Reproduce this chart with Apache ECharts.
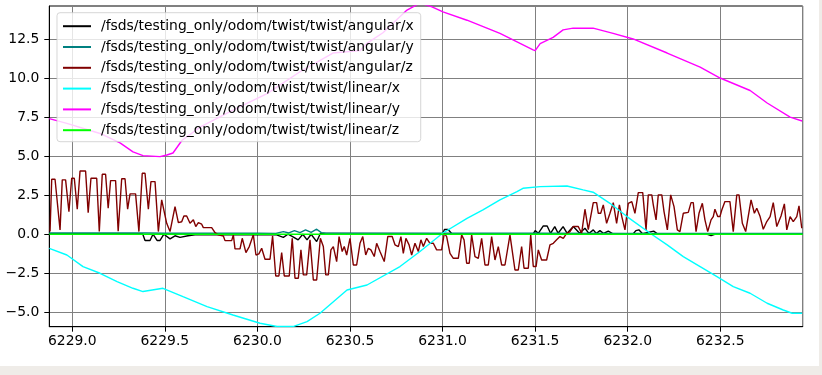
<!DOCTYPE html>
<html>
<head>
<meta charset="utf-8">
<script src="https://cdn.jsdelivr.net/npm/echarts@6/dist/echarts.min.js"></script>
<style>
    html, body { margin: 0; padding: 0; background: #efece8; }
    #chart { width: 819px; height: 366px; background: #fff; }
</style>
</head>
<body>
<div id="chart"></div>
<script>
// 图例名称
const seriesNames = [
    '/fsds/testing_only/odom/twist/twist/angular/x',
    '/fsds/testing_only/odom/twist/twist/angular/y',
    '/fsds/testing_only/odom/twist/twist/angular/z',
    '/fsds/testing_only/odom/twist/twist/linear/x',
    '/fsds/testing_only/odom/twist/twist/linear/y',
    '/fsds/testing_only/odom/twist/twist/linear/z'
];
const seriesColors = ['#000000', '#008080', '#800000', '#00ffff', '#ff00ff', '#00ff00'];

// [time, value]
const angularX = [
    [6228.876, 0.03], [6229.380, 0.03], [6229.393, -0.40], [6229.420, -0.40], [6229.436, 0.00],
    [6229.458, -0.40], [6229.474, -0.40], [6229.495, 0.00], [6229.528, -0.30], [6229.555, -0.10],
    [6229.582, -0.20], [6229.625, -0.10], [6229.663, -0.03], [6230.100, -0.03], [6230.140, -0.20],
    [6230.165, 0.00], [6230.190, -0.15], [6230.220, -0.36], [6230.245, 0.00], [6230.268, -0.36],
    [6230.290, 0.00], [6230.320, -0.47], [6230.340, 0.05], [6231.000, 0.03], [6231.010, 0.30],
    [6231.030, 0.30], [6231.050, 0.03], [6231.490, 0.03], [6231.500, 0.23], [6231.517, 0.06],
    [6231.544, 0.53], [6231.565, 0.53], [6231.583, 0.06], [6231.606, 0.49], [6231.624, 0.06],
    [6231.651, 0.49], [6231.673, 0.06], [6231.706, 0.49], [6231.740, 0.06], [6231.769, 0.38],
    [6231.790, 0.05], [6231.814, 0.28], [6231.830, 0.05], [6231.850, 0.23], [6231.870, 0.05],
    [6231.895, 0.20], [6231.920, 0.03], [6232.030, 0.03], [6232.044, 0.23], [6232.060, 0.28],
    [6232.080, 0.03], [6232.140, 0.20], [6232.160, 0.03], [6232.430, 0.00], [6232.450, -0.08],
    [6232.470, 0.00], [6232.945, 0.02]
];

const angularY = [
    [6228.876, 0.08], [6229.400, 0.08], [6229.500, 0.06], [6230.000, 0.06], [6230.100, 0.05],
    [6230.140, 0.17], [6230.170, 0.08], [6230.200, 0.23], [6230.230, 0.10], [6230.260, 0.28],
    [6230.290, 0.12], [6230.320, 0.32], [6230.345, 0.10], [6230.370, 0.06], [6231.000, 0.06],
    [6231.500, 0.06], [6232.000, 0.05], [6232.945, 0.05]
];

const angularZ = [
    [6228.880, 0.17], [6228.889, 3.52], [6228.907, 3.52], [6228.934, 0.27], [6228.946, 3.48],
    [6228.964, 3.48], [6228.982, 1.45], [6228.997, 3.58], [6229.011, 3.58], [6229.027, 1.60],
    [6229.042, 4.05], [6229.072, 4.05], [6229.086, 1.38], [6229.101, 3.58], [6229.132, 3.58],
    [6229.146, 0.17], [6229.162, 3.84], [6229.180, 3.84], [6229.194, 1.66], [6229.207, 3.43],
    [6229.234, 3.43], [6229.248, 0.20], [6229.267, 3.55], [6229.285, 3.55], [6229.299, 1.60],
    [6229.312, 2.58], [6229.342, 2.58], [6229.360, 0.17], [6229.378, 3.90], [6229.393, 3.90],
    [6229.411, 1.60], [6229.425, 3.37], [6229.447, 3.37], [6229.465, 0.17], [6229.483, 2.20],
    [6229.492, 2.20], [6229.510, 0.70], [6229.528, 0.17], [6229.555, 1.77], [6229.573, 0.74],
    [6229.591, 0.80], [6229.603, 1.17], [6229.618, 1.17], [6229.636, 0.70], [6229.654, 0.92],
    [6229.667, 0.49], [6229.681, 0.74], [6229.699, 0.64], [6229.708, 0.42], [6229.753, 0.42],
    [6229.771, 0.10], [6229.789, -0.04], [6229.816, -0.11], [6229.825, -0.41], [6229.861, -0.41],
    [6229.870, -0.04], [6229.879, -0.94], [6229.906, -0.94], [6229.918, -0.26], [6229.938, -1.18],
    [6229.956, -0.79], [6229.978, -0.04], [6229.992, -1.33], [6230.008, -1.26], [6230.023, -0.90],
    [6230.041, -1.60], [6230.068, -1.60], [6230.082, -0.11], [6230.099, -2.67], [6230.116, -2.67],
    [6230.131, -1.18], [6230.145, -2.67], [6230.172, -2.67], [6230.188, -0.26], [6230.203, -2.82],
    [6230.221, -2.82], [6230.235, -1.00], [6230.248, -2.60], [6230.266, -2.60], [6230.284, -0.36],
    [6230.302, -2.93], [6230.320, -2.93], [6230.340, -0.26], [6230.356, -0.79], [6230.369, -2.60],
    [6230.383, -2.60], [6230.397, -1.00], [6230.410, -0.79], [6230.428, -1.75], [6230.441, -0.15],
    [6230.458, -1.11], [6230.469, -0.79], [6230.482, -1.33], [6230.500, -0.26], [6230.518, -1.97],
    [6230.536, -1.97], [6230.554, -0.58], [6230.569, -0.15], [6230.585, -1.33], [6230.599, -0.90],
    [6230.613, -1.00], [6230.631, -1.43], [6230.644, -0.58], [6230.662, -1.11], [6230.685, -1.75],
    [6230.704, -0.15], [6230.728, -0.15], [6230.743, -0.68], [6230.761, -0.79], [6230.775, -0.15],
    [6230.788, -1.22], [6230.802, -0.26], [6230.819, -0.68], [6230.833, -1.33], [6230.851, -0.58],
    [6230.869, -1.11], [6230.883, -0.36], [6230.896, -0.79], [6230.914, -0.26], [6230.932, -0.58],
    [6230.950, -0.58], [6230.968, -1.00], [6230.995, -1.00], [6231.009, 0.06], [6231.022, -0.15],
    [6231.040, -1.22], [6231.058, -1.54], [6231.085, -1.54], [6231.103, -0.04], [6231.116, -0.36],
    [6231.130, -1.86], [6231.144, -1.86], [6231.157, -0.04], [6231.175, -1.43], [6231.193, -1.54],
    [6231.211, -0.26], [6231.229, -1.97], [6231.247, -1.97], [6231.265, -0.15], [6231.283, -1.65],
    [6231.301, -0.79], [6231.319, -1.97], [6231.337, -1.97], [6231.364, -0.04], [6231.391, -2.29],
    [6231.409, -2.29], [6231.427, -0.79], [6231.440, -2.18], [6231.463, -2.18], [6231.476, -0.04],
    [6231.490, -2.07], [6231.505, -2.07], [6231.517, -1.00], [6231.535, -1.65], [6231.562, -1.65],
    [6231.580, -0.68], [6231.598, -0.58], [6231.616, -0.36], [6231.634, -0.15], [6231.652, -0.26],
    [6231.670, 0.06], [6231.688, 0.17], [6231.706, 0.49], [6231.733, 0.49], [6231.751, 0.06],
    [6231.769, 1.60], [6231.787, 0.30], [6231.814, 2.02], [6231.832, 2.02], [6231.841, 1.34],
    [6231.854, 1.34], [6231.868, 1.88], [6231.886, 0.70], [6231.904, 1.34], [6231.922, 2.02],
    [6231.940, 0.70], [6231.955, 1.88], [6231.968, 1.13], [6231.985, 0.28], [6232.003, 1.98],
    [6232.022, 2.09], [6232.039, 1.34], [6232.057, 2.66], [6232.081, 2.66], [6232.099, 0.28],
    [6232.111, 2.52], [6232.130, 2.52], [6232.138, 1.88], [6232.153, 0.92], [6232.165, 2.52],
    [6232.184, 2.52], [6232.196, 1.45], [6232.214, 0.28], [6232.232, 2.52], [6232.250, 1.77],
    [6232.268, 0.28], [6232.282, 0.17], [6232.300, 1.34], [6232.327, 1.40], [6232.342, 2.02],
    [6232.354, 2.02], [6232.369, 0.17], [6232.385, 1.34], [6232.403, 1.98], [6232.417, 0.92],
    [6232.432, 0.17], [6232.450, 0.92], [6232.462, 1.13], [6232.471, 1.60], [6232.486, 1.13],
    [6232.498, 1.13], [6232.508, 1.55], [6232.525, 2.09], [6232.552, 2.09], [6232.570, 0.17],
    [6232.589, 2.52], [6232.601, 2.52], [6232.619, 0.70], [6232.637, 0.17], [6232.666, 2.20],
    [6232.684, 1.34], [6232.697, 1.66], [6232.715, 1.13], [6232.732, 0.32], [6232.751, 0.81],
    [6232.769, 1.13], [6232.786, 2.02], [6232.805, 0.49], [6232.828, 1.17], [6232.846, 1.94],
    [6232.859, 0.28], [6232.877, 1.13], [6232.894, 0.81], [6232.913, 1.13], [6232.925, 1.81],
    [6232.940, 0.38]
];

const linearX = [
    [6228.876, -0.90], [6228.971, -1.33], [6229.058, -2.07], [6229.150, -2.50], [6229.242, -3.03],
    [6229.328, -3.46], [6229.382, -3.67], [6229.490, -3.46], [6229.598, -4.00], [6229.728, -4.63],
    [6229.868, -5.17], [6230.014, -5.70], [6230.106, -5.91], [6230.192, -5.91], [6230.268, -5.60],
    [6230.338, -5.06], [6230.484, -3.57], [6230.592, -3.25], [6230.770, -2.07], [6230.878, -1.11],
    [6231.002, 0.08], [6231.132, 1.02], [6231.218, 1.56], [6231.310, 2.20], [6231.402, 2.73],
    [6231.434, 2.94], [6231.527, 3.05], [6231.672, 3.09], [6231.759, 2.84], [6231.813, 2.69],
    [6231.904, 1.98], [6231.996, 1.13], [6232.121, 0.06], [6232.213, -0.68], [6232.300, -1.43],
    [6232.391, -2.07], [6232.482, -2.71], [6232.570, -3.35], [6232.661, -3.78], [6232.753, -4.42],
    [6232.840, -4.85], [6232.888, -5.06], [6232.942, -5.06]
];

const linearY = [
    [6228.876, 7.40], [6228.971, 7.10], [6229.150, 6.45], [6229.258, 5.85], [6229.328, 5.27],
    [6229.382, 5.03], [6229.474, 4.97], [6229.511, 5.07], [6229.544, 5.20], [6229.592, 6.00],
    [6229.690, 6.86], [6229.868, 7.95], [6230.052, 9.00], [6230.230, 10.40], [6230.408, 11.60],
    [6230.554, 11.75], [6230.589, 12.20], [6230.678, 12.90], [6230.808, 14.35], [6230.878, 14.80],
    [6230.943, 14.55], [6231.002, 14.23], [6231.132, 13.70], [6231.310, 12.86], [6231.489, 11.80],
    [6231.500, 11.75], [6231.527, 12.20], [6231.597, 12.60], [6231.651, 13.08], [6231.705, 13.19],
    [6231.813, 13.19], [6231.921, 12.86], [6232.029, 12.50], [6232.213, 11.60], [6232.391, 10.70],
    [6232.499, 10.00], [6232.661, 9.20], [6232.753, 8.40], [6232.877, 7.50], [6232.942, 7.25]
];

const linearZ = [
    [6228.876, 0.00], [6229.500, 0.00], [6230.500, 0.00], [6231.500, 0.00], [6232.500, 0.00],
    [6232.945, 0.00]
];

const allData = [angularX, angularY, angularZ, linearX, linearY, linearZ];

const fontFamily = '"DejaVu Sans", sans-serif';
const chart = echarts.init(document.getElementById('chart'));

function fmt(v) {
    const s = v.toFixed(1);
    return s.charAt(0) === '-' ? '\u2212' + s.slice(1) : s;
}

const option = {
    animation: false,
    grid: {
        left: 49.3,
        right: 16.3,
        top: 6,
        bottom: 39.3,
        show: true,
        borderColor: '#000',
        borderWidth: 1,
        backgroundColor: 'transparent'
    },
    legend: {
        orient: 'vertical',
        left: 57,
        top: 12.7,
        data: seriesNames,
        itemWidth: 28,
        itemHeight: 12,
        itemGap: 5.8,
        padding: [6, 7, 4, 5],
        backgroundColor: 'rgba(255,255,255,0.8)',
        borderColor: 'rgba(204,204,204,0.8)',
        borderWidth: 1,
        borderRadius: 3,
        // 只显示线段，不显示圆点
        itemStyle: { opacity: 0 },
        textStyle: {
            fontFamily: fontFamily,
            fontSize: 13.9,
            lineHeight: 15,
            color: '#000',
            padding: [0, 0, 0, 5]
        }
    },
    xAxis: {
        type: 'value',
        min: 6228.876,
        max: 6232.945,
        minInterval: 0.5,
        maxInterval: 0.5,
        splitNumber: 8,
        axisLine: { show: true, onZero: false, lineStyle: { color: '#000', width: 1 } },
        axisTick: { show: true, length: 5, lineStyle: { color: '#000' } },
        axisLabel: {
            showMinLabel: false,
            showMaxLabel: false,
            margin: 8,
            color: '#000',
            fontFamily: fontFamily,
            fontSize: 13.9,
            formatter: fmt
        },
        splitLine: { show: true, lineStyle: { color: '#808080', width: 1 } }
    },
    yAxis: {
        type: 'value',
        min: -5.92,
        max: 14.61,
        minInterval: 2.5,
        maxInterval: 2.5,
        splitNumber: 8,
        axisLine: { show: true, onZero: false, lineStyle: { color: '#000', width: 1 } },
        axisTick: { show: true, length: 5, lineStyle: { color: '#000' } },
        axisLabel: {
            showMinLabel: false,
            showMaxLabel: false,
            margin: 10,
            color: '#000',
            fontFamily: fontFamily,
            fontSize: 13.9,
            formatter: fmt
        },
        splitLine: { show: true, lineStyle: { color: '#808080', width: 1 } }
    },
    series: seriesNames.map((name, i) => ({
        name: name,
        type: 'line',
        data: allData[i],
        symbol: 'none',
        showSymbol: false,
        clip: true,
        color: seriesColors[i],
        lineStyle: { color: seriesColors[i], width: 1.4 },
        z: 2 + i * 0.01
    }))
};

chart.setOption(option);
</script>
</body>
</html>
